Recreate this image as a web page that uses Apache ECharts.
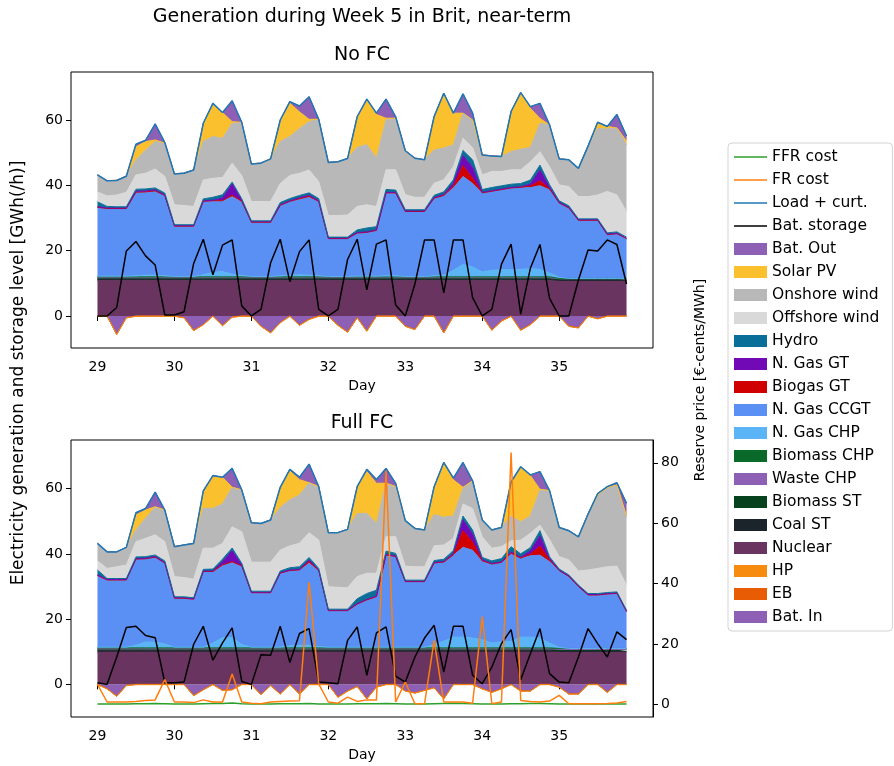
<!DOCTYPE html>
<html><head><meta charset="utf-8">
<script src="https://cdn.jsdelivr.net/npm/echarts@6/dist/echarts.min.js"></script>
<style>html,body{margin:0;padding:0;background:#fff}#c{width:894px;height:766px}</style>
</head><body><div id="c"></div>
<script>
// ---- time axis (3-hourly, days 29 .. 35.875) ----
const days = [29,29.125,29.25,29.375,29.5,29.625,29.75,29.875,30,30.125,30.25,30.375,30.5,30.625,30.75,30.875,31,31.125,31.25,31.375,31.5,31.625,31.75,31.875,32,32.125,32.25,32.375,32.5,32.625,32.75,32.875,33,33.125,33.25,33.375,33.5,33.625,33.75,33.875,34,34.125,34.25,34.375,34.5,34.625,34.75,34.875,35,35.125,35.25,35.375,35.5,35.625,35.75,35.875];
const dayTicks = [29,30,31,32,33,34,35];
const genTicks = [0,20,40,60];
const priceTicks = [0,20,40,60,80];

// ---- No FC (top) ----
const noFcNuclear = [10.8,10.8,10.8,10.8,10.8,10.8,10.8,10.8,10.8,10.8,10.8,10.8,10.8,10.8,10.8,10.8,10.8,10.8,10.8,10.8,10.8,10.8,10.8,10.8,10.8,10.8,10.8,10.8,10.8,10.8,10.8,10.8,10.8,10.8,10.8,10.8,10.8,10.8,10.8,10.8,10.8,10.8,10.8,10.8,10.8,10.8,10.8,10.8,10.8,10.8,10.8,10.8,10.8,10.8,10.8,10.8];
const noFcCoal = [0.4,0.4,0.4,0.4,0.4,0.4,0.4,0.4,0.4,0.4,0.4,0.4,0.4,0.4,0.4,0.4,0.4,0.4,0.4,0.4,0.4,0.4,0.4,0.4,0.4,0.4,0.4,0.4,0.4,0.4,0.4,0.4,0.4,0.4,0.4,0.4,0.4,0.4,0.4,0.4,0.4,0.4,0.4,0.4,0.4,0.4,0.4,0.4,0.1,0.1,0.1,0.1,0.1,0.1,0.1,0.1];
const noFcBiomassST = [0.4,0.4,0.4,0.4,0.4,0.4,0.4,0.4,0.4,0.4,0.4,0.4,0.4,0.4,0.4,0.4,0.4,0.4,0.4,0.4,0.4,0.4,0.4,0.4,0.4,0.4,0.4,0.4,0.4,0.4,0.4,0.4,0.4,0.4,0.4,0.4,0.4,0.4,0.4,0.4,0.4,0.4,0.4,0.4,0.4,0.4,0.4,0.4,0.4,0.4,0.4,0.4,0.4,0.4,0.4,0.4];
const noFcWasteCHP = [0.1,0.1,0.1,0.1,0.1,0.1,0.1,0.1,0.1,0.1,0.1,0.1,0.1,0.1,0.1,0.1,0.1,0.1,0.1,0.1,0.1,0.1,0.1,0.1,0.1,0.1,0.1,0.1,0.1,0.1,0.1,0.1,0.1,0.1,0.1,0.1,0.1,0.1,0.1,0.1,0.1,0.1,0.1,0.1,0.1,0.1,0.1,0.1,0.1,0.1,0.1,0.1,0.1,0.1,0.1,0.1];
const noFcBiomassCHP = [0.3,0.3,0.3,0.3,0.3,0.3,0.3,0.3,0.3,0.3,0.3,0.3,0.3,0.3,0.3,0.3,0.3,0.3,0.3,0.3,0.3,0.3,0.3,0.3,0.3,0.3,0.3,0.3,0.3,0.3,0.3,0.3,0.3,0.3,0.3,0.3,0.3,0.3,0.3,0.3,0.3,0.3,0.3,0.3,0.3,0.3,0.3,0.3,0.1,0.1,0.1,0.1,0.1,0.1,0.1,0.1];
const noFcGasCHP = [0.2,0.2,0.2,0.2,0.3,0.5,0.5,0.3,0.1,0.1,0.1,0.6,1.4,1.6,0.8,0.4,0.1,0.1,0.1,0.3,0.5,0.6,0.5,0.3,0.1,0.1,0.1,0.2,0.2,0.2,0.3,0.3,0.1,0.1,0.1,0.3,0.5,2.0,3.8,3.0,1.5,2.0,2.2,2.2,2.3,2.5,2.3,1.2,0.3,0,0,0,0,0,0,0];
const noFcCCGT = [21.0,20.6,20.6,20.6,25.5,25.4,25.7,24.5,15.3,15.3,15.3,22.4,21.8,21.6,23.7,22.6,16.5,16.5,16.5,21.5,22.5,23.2,24.0,22.7,11.5,11.5,11.5,13.1,13.3,13.9,25.3,25.3,19.8,19.8,19.8,23.7,24.3,25.2,26.9,25.6,24.1,24.1,24.4,24.9,25.0,24.8,25.6,25.4,22.7,21.5,17.7,17.7,17.7,13.3,13.6,12.1];
const noFcBiogasGT = [0.1,0.1,0.1,0.1,0.1,0.1,0.1,0.1,0.1,0.1,0.1,0.1,0.1,0.1,0.5,0.1,0.1,0.1,0.1,0.1,0.1,0.1,0.1,0.1,0.1,0.1,0.1,0.1,0.1,0.1,0.1,0.1,0.1,0.1,0.1,0.1,0.1,0.5,3.3,1.6,0.1,0.1,0.1,0.1,0.1,0.5,1.5,0.3,0.1,0.1,0.1,0.1,0.1,0.1,0.1,0.1];
const noFcGasGT = [0.15,0.15,0.15,0.15,0.3,0.3,0.3,0.15,0.15,0.15,0.15,0.15,0.15,0.8,3.4,0.3,0.15,0.15,0.15,0.15,0.15,0.3,0.4,0.15,0.15,0.15,0.15,0.15,0.15,0.15,0.15,0.15,0.15,0.15,0.15,0.15,0.3,1.0,3.1,3.3,0.2,0.15,0.15,0.15,0.15,0.6,3.3,0.5,0.15,0.15,0.15,0.15,0.15,0.15,0.15,0.15];
const noFcHydro = [1.5,0.5,0.4,0.4,0.6,0.6,0.6,0.6,0.3,0.3,0.3,0.6,0.9,1.0,0.6,0.5,0.3,0.3,0.3,0.7,0.7,0.7,0.7,0.7,0.3,0.3,0.3,0.8,1.2,1.0,0.9,0.7,0.4,0.4,0.4,0.7,0.8,1.0,1.6,2.3,0.8,1.0,1.0,1.0,1.0,1.2,1.5,0.8,0.5,0.5,0.3,0.3,0.3,0.4,0.4,0.3];
const noFcOffshore = [3.0,3.2,3.6,4.4,4.4,4.8,5.8,5.1,6.1,5.9,5.6,5.8,5.8,5.3,5.8,7.1,5.9,5.9,5.9,5.8,7.1,6.8,7.0,5.2,6.6,6.6,6.8,7.2,7.1,6.2,6.0,6.2,4.6,3.8,3.8,3.7,3.7,4.0,3.7,3.7,4.5,4.9,4.4,4.4,4.2,5.6,4.1,5.5,4.9,5.9,6.8,6.8,7.3,12.7,11.3,7.8];
const noFcOnshore = [5.3,4.7,4.5,5.0,4.6,7.1,8.4,10.2,9.5,9.9,11.2,11.8,12.8,12.0,12.2,16.3,11.5,11.8,13.1,12.9,11.9,13.7,14.8,19.1,16.3,16.5,17.3,18.1,18.4,14.8,15.3,15.8,13.5,12.0,11.5,10.2,9.7,6.7,7.7,8.5,6.1,4.8,4.6,5.6,6.3,4.4,8.7,12.8,8.0,8.2,8.7,15.5,20.4,19.1,20.5,20.4];
const noFcSolar = [0,0,0,0,4.0,2.6,0.5,0,0,0,0,5.6,9.7,7.9,0.5,0,0,0,0,6.1,10.2,5.1,0.7,0,0,0,0,9.4,13.6,13.3,0.5,0,0,0,0,10.3,16.8,9.7,0,0,0,0,0,12.3,17.4,12.0,1.5,0,0,0,0,0,1.6,0.8,0,1.2];
const noFcBatOut = [0,0,0,0,0.8,0.4,4.9,0.2,0,0,0,0,0.5,0,6.4,0,0,0,0,0.5,0.5,1.8,6.9,0,0,0,0,0,0.4,0.5,5.9,0.5,0,0,0,0,0,0,5.9,2.1,0,0,0,0,0,0.5,4.6,0,0,0,0,0,0.3,0,4.2,1.6];
const noFcHP = [-0.1,-0.1,-0.1,-0.1,-0.1,-0.1,-0.1,-0.1,-0.1,-0.1,-0.1,-0.1,-0.1,-0.1,-0.1,-0.1,-0.1,-0.1,-0.1,-0.1,-0.1,-0.1,-0.1,-0.1,-0.1,-0.1,-0.1,-0.1,-0.1,-0.1,-0.1,-0.1,-0.1,-0.1,-0.1,-0.1,-0.1,-0.1,-0.1,-0.1,-0.1,-0.1,-0.1,-0.1,-0.1,-0.1,-0.1,-0.1,-0.1,-0.1,-0.1,-0.1,-0.1,-0.1,-0.1,-0.1];
const noFcEB = [0,0,0,0,0,0,0,0,0,0,0,0,0,0,0,0,0,0,0,0,0,0,0,0,0,0,0,0,0,0,0,0,0,0,0,0,0,0,0,0,0,0,0,0,0,0,0,0,0,0,0,0,0,0,0,0];
const noFcBatIn = [0,0,-5.6,-0.5,0,0,0,0,0,-0.5,-4.4,-2.6,0,-2.9,-0.3,0,0,-3.1,-5.1,-2.0,0,-2.8,-1.0,0,0,-2.8,-4.9,-0.5,-4.6,0,0,0,-3.1,-4.1,0,0,-5.1,0,0,0,0,-4.3,-1.5,0,-4.3,-2.6,0,0,0,-3.1,-3.6,0,-0.8,0,0,0];
const noFcLoad = [43.2,41.4,41.5,42.8,52.6,53.8,58.8,53.1,43.5,43.7,44.7,59.0,65.1,62.3,65.9,59.3,46.5,46.8,48.1,60.0,65.6,64.3,67.1,60.2,47.0,47.2,48.2,61.0,66.4,62.1,66.4,61.0,50.6,48.3,47.8,61.1,68.2,62.1,68.0,62.1,49.3,49.0,48.8,62.6,68.4,64.1,65.1,58.5,48.1,47.8,45.2,52.0,59.3,58.0,61.7,55.1];
const noFcBatStorage = [0,0,2.6,19.9,22.8,18.4,15.6,0.3,0.3,1.3,16.1,23.5,12.6,21.7,23.3,3.1,0,2.0,16.3,23.5,10.5,19.7,23.3,2.0,0,2.0,17.3,23.5,8.0,22.0,23.3,3.4,0,9.8,23.3,23.3,7.1,23.3,23.3,5.6,0,2.0,15.9,22.0,0.6,14.6,21.9,5.4,0,0,11.0,20.2,19.9,23.3,21.9,9.8];

// ---- Full FC (bottom) ----
const fullFcNuclear = [9.9,9.9,9.9,9.9,9.9,9.9,9.9,9.9,9.9,9.9,9.9,9.9,9.9,9.9,9.9,9.9,9.9,9.9,9.9,9.9,9.9,9.9,9.9,9.9,9.9,9.9,9.9,9.9,9.9,9.9,9.9,9.9,9.9,9.9,9.9,9.9,9.9,9.9,9.9,9.9,9.9,9.9,9.9,9.9,9.9,9.9,9.9,9.9,9.9,9.9,9.9,9.9,9.9,9.9,9.9,9.9];
const fullFcCoal = [0.4,0.4,0.4,0.4,0.4,0.4,0.4,0.4,0.4,0.4,0.4,0.4,0.4,0.4,0.4,0.4,0.4,0.4,0.4,0.4,0.4,0.4,0.4,0.4,0.4,0.4,0.4,0.4,0.4,0.4,0.4,0.4,0.4,0.4,0.4,0.4,0.4,0.4,0.4,0.4,0.4,0.4,0.4,0.4,0.4,0.4,0.4,0.4,0.2,0.2,0.2,0.2,0.2,0.2,0.2,0.2];
const fullFcBiomassST = [0.5,0.5,0.5,0.5,0.5,0.5,0.5,0.5,0.5,0.5,0.5,0.5,0.5,0.5,0.5,0.5,0.5,0.5,0.5,0.5,0.5,0.5,0.5,0.5,0.5,0.5,0.5,0.5,0.5,0.5,0.5,0.5,0.5,0.5,0.5,0.5,0.5,0.5,0.5,0.5,0.5,0.5,0.5,0.5,0.5,0.5,0.5,0.5,0.5,0.5,0.5,0.5,0.5,0.5,0.5,0.5];
const fullFcWasteCHP = [0.1,0.1,0.1,0.1,0.1,0.1,0.1,0.1,0.1,0.1,0.1,0.1,0.1,0.1,0.1,0.1,0.1,0.1,0.1,0.1,0.1,0.1,0.1,0.1,0.1,0.1,0.1,0.1,0.1,0.1,0.1,0.1,0.1,0.1,0.1,0.1,0.1,0.1,0.1,0.1,0.1,0.1,0.1,0.1,0.1,0.1,0.1,0.1,0.1,0.1,0.1,0.1,0.1,0.1,0.1,0.1];
const fullFcBiomassCHP = [0.3,0.3,0.3,0.3,0.3,0.3,0.3,0.3,0.3,0.3,0.3,0.3,0.3,0.3,0.3,0.3,0.3,0.3,0.3,0.3,0.3,0.3,0.3,0.3,0.3,0.3,0.3,0.3,0.3,0.3,0.3,0.3,0.3,0.3,0.3,0.3,0.3,0.3,0.3,0.3,0.3,0.3,0.3,0.3,0.3,0.3,0.3,0.3,0.3,0.3,0.3,0.3,0.3,0.3,0.3,0.3];
const fullFcGasCHP = [0.2,0.2,0.2,0.2,0.8,1.8,1.8,1.2,0.2,0.2,0.2,0.2,1.5,3.1,3.1,1.0,0.2,0.2,0.2,0.2,0.6,0.8,0.8,0.4,0.2,0.2,0.2,0.2,0.2,0.2,0.2,0.2,0.2,0.2,0.2,1.0,2.0,3.3,3.3,3.0,2.5,1.5,1.8,2.0,3.3,3.3,3.0,1.5,0.3,0,0,0,0,0,0,0];
const fullFcCCGT = [21.9,20.5,20.5,20.5,26.3,25.4,25.9,24.7,14.9,14.9,14.6,23.1,21.8,22.2,23.0,24.0,16.6,16.6,16.6,22.6,23.0,23.0,25.1,23.2,11.1,11.1,11.1,13.1,14.4,15.4,28.2,27.7,20.0,20.0,20.0,24.9,24.2,25.1,27.5,26.9,23.9,24.1,24.3,26.9,24.1,24.9,25.4,24.9,23.5,22.0,18.9,16.3,16.3,16.6,16.8,11.2];
const fullFcBiogasGT = [0.1,0.1,0.1,0.1,0.1,0.1,0.1,0.1,0.1,0.1,0.1,0.1,0.1,0.1,0.3,0.1,0.1,0.1,0.1,0.1,0.1,0.1,0.5,0.1,0.1,0.1,0.1,0.1,0.1,0.1,0.1,0.1,0.1,0.1,0.1,0.1,0.1,0.1,5.1,2.5,0.3,0.1,0.1,0.1,0.1,0.5,2.8,0.5,0.1,0.1,0.1,0.1,0.1,0.1,0.1,0.1];
const fullFcGasGT = [0.15,0.15,0.15,0.15,0.15,0.15,0.15,0.15,0.15,0.15,0.15,0.15,0.15,1.0,3.4,0.3,0.15,0.15,0.15,0.15,0.15,0.15,0.5,0.15,0.15,0.15,0.15,0.15,0.15,0.15,0.15,0.15,0.15,0.15,0.15,0.15,0.15,0.5,3.3,2.5,0.3,0.15,0.15,0.5,0.3,1.0,3.1,0.5,0.15,0.15,0.15,0.15,0.15,0.15,0.15,0.15];
const fullFcHydro = [1.5,0.3,0.3,0.3,0.5,0.5,0.5,0.5,0.3,0.3,0.3,0.5,0.6,0.8,0.8,0.5,0.3,0.3,0.3,0.5,0.7,0.8,0.8,0.5,0.3,0.3,0.3,1.5,1.8,1.8,1.0,0.8,0.3,0.3,0.3,0.6,0.7,0.8,1.2,1.2,0.7,0.8,1.0,1.5,1.0,1.0,1.6,0.5,0.3,0.3,0.3,0.3,0.3,0.3,0.3,0.3];
const fullFcOffshore = [2.8,3.1,3.6,4.1,4.7,5.6,6.2,5.9,6.2,5.9,5.7,6.5,6.4,4.8,6.5,9.7,8.9,8.9,8.9,6.4,6.7,7.2,7.6,8.7,6.9,6.7,6.6,6.8,6.2,5.2,4.4,5.1,4.3,4.1,4.1,4.5,4.4,3.7,3.7,6.6,6.3,3.9,3.7,1.8,4.2,4.4,1.7,5.3,3.8,4.6,4.3,7.2,7.7,7.9,7.9,7.7];
const fullFcOnshore = [5.4,5.1,4.6,5.5,3.6,6.2,8.4,9.7,9.2,10.0,11.0,12.2,12.2,12.1,12.1,12.8,12.1,11.9,13.0,13.1,14.1,14.8,15.3,16.4,16.6,16.8,17.9,19.3,18.4,15.3,16.4,15.4,14.0,11.8,11.3,9.6,8.5,6.9,4.8,8.5,5.2,5.6,5.9,7.6,5.6,5.3,10.8,15.0,9.0,9.0,10.5,17.2,22.5,24.3,24.6,20.7];
const fullFcSolar = [0,0,0,0,4.6,2.5,0.2,0,0,0,0,4.7,9.6,8.2,0,0,0,0,0,5.6,8.9,4.7,0,0,0,0,0,8.3,12.8,12.3,0,0,0,0,0,8.6,16.8,11.1,0.3,0,0,0,0,10.0,16.9,12.4,0.2,0,0,0,0,0,0,0,0.3,0.4];
const fullFcBatOut = [0,0,0,0,0.7,0.5,4.5,0,0,0,0,0.7,0.5,0,5.8,0,0,0,0,0.6,0.5,0.8,5.7,0,0,0,0,0,0.7,1.2,4.6,1.0,0,0,0,0,0,0.5,7.6,0,0,0,0,0.5,0,0.2,5.4,0,0,0,0,0,0.5,0.3,0.7,4.0];
const fullFcHP = [-0.1,-0.1,-0.1,-0.1,-0.1,-0.1,-0.1,-0.1,-0.1,-0.1,-0.1,-0.1,-0.1,-0.1,-0.1,-0.1,-0.1,-0.1,-0.1,-0.1,-0.1,-0.1,-0.1,-0.1,-0.1,-0.1,-0.1,-0.1,-0.1,-0.1,-0.1,-0.1,-0.1,-0.1,-0.1,-0.1,-0.1,-0.1,-0.1,-0.1,-0.1,-0.1,-0.1,-0.1,-0.1,-0.1,-0.1,-0.1,-0.1,-0.1,-0.1,-0.1,-0.1,-0.1,-0.1,-0.1];
const fullFcEB = [0,0,0,0,0,0,0,0,0,0,0,0,0,0,0,0,0,0,0,0,0,0,0,0,0,0,0,0,0,0,0,0,0,0,0,0,0,0,0,0,0,0,0,0,0,0,0,0,0,0,0,0,0,0,0,0];
const fullFcBatIn = [0,-1.3,-3.6,-0.3,0,0,0,0,0,0,-3.4,-1.6,0,-1.8,-1.6,0,0,-3.1,-0.3,-2.9,0,-2.9,0,0,0,-3.9,-2.0,-0.6,-4.4,-0.8,0,0,-2.0,-2.6,-1.8,-1.0,-4.4,0,0,0,-1.3,-2.4,-1.3,0,-2.0,-2.0,0,0,-0.8,-2.9,-2.9,0,0,-2.4,0,0];
const fullFcLoad = [43.2,40.6,40.6,42.0,52.6,53.9,58.9,53.4,42.2,42.7,43.2,59.3,64.0,63.5,66.2,59.6,49.5,49.3,50.4,60.4,65.9,63.5,67.5,60.6,46.5,46.5,47.5,60.6,65.9,62.8,66.2,61.6,50.2,47.8,47.3,60.6,68.0,63.2,68.0,62.4,50.4,47.3,48.1,62.1,66.7,64.2,65.2,59.4,48.1,47.1,45.2,52.2,58.5,60.6,61.8,55.5];
const fullFcBatStorage = [0.5,0,8.4,17.4,17.8,15.0,14.3,0.5,0.5,0.7,12.3,17.8,7.4,12.7,17.3,0.9,0,9.1,8.9,17.8,6.7,15.6,17.1,0.7,0.5,0.2,13.5,17.6,2.8,15.8,17.6,2.5,0.7,8.4,14.2,18.1,3.8,17.8,17.8,2.8,0.2,5.3,12.5,16.8,1.4,9.4,17.1,3.3,0.7,0.5,8.4,17.1,12.5,8.4,16.1,13.7];
const fullFcFRCost = [6.6,0.8,0.8,0.8,1.0,1.3,1.5,8.2,0.8,0.8,0.6,1.5,0.8,0.8,10.1,0.8,0.4,0.2,0.8,1.0,1.1,1.2,40.4,6.8,0.8,0.4,2.4,1.0,1.5,1.5,77.4,0.8,7.4,0.2,0.2,21.2,0.8,0.8,0.8,0.4,29.1,0.2,0.8,83.4,1.3,1.0,0.8,1.1,3.0,0.2,0.2,0.2,0.2,0.3,0.5,1.0];
const fullFcFFRCost = [0.1,0.1,0.1,0.1,0.2,0.2,0.3,0.2,0.1,0.1,0.1,0.2,0.3,0.3,0.5,0.2,0.1,0.1,0.1,0.2,0.2,0.2,0.3,0.1,0.1,0.1,0.1,0.2,0.2,0.2,0.3,0.2,0.1,0.1,0.1,0.2,0.3,0.4,0.3,0.2,0.1,0.1,0.1,0.2,0.2,0.3,0.3,0.2,0.1,0.1,0.1,0.1,0.1,0.1,0.1,0.1];

// ---- styling ----
const FONT = 'DejaVu Sans';
const COLORS = {
  'FFR cost':'#2ca02c','FR cost':'#ff7f0e','Load + curt.':'#1f77b4','Bat. storage':'#000000',
  'Bat. Out':'#8d5fb5','Solar PV':'#fbc02d','Onshore wind':'#b8b8b8','Offshore wind':'#d9d9d9',
  'Hydro':'#0a6f98','N. Gas GT':'#7209b7','Biogas GT':'#d00000','N. Gas CCGT':'#5a8ff3',
  'N. Gas CHP':'#5ab4f5','Biomass CHP':'#0a6a2a','Waste CHP':'#8d5fb5','Biomass ST':'#06421e',
  'Coal ST':'#1b242b','Nuclear':'#6a3460','HP':'#f68b0f','EB':'#e85d04','Bat. In':'#8d5fb5'
};
const legendOrder = ['FFR cost','FR cost','Load + curt.','Bat. storage','Bat. Out','Solar PV','Onshore wind','Offshore wind','Hydro','N. Gas GT','Biogas GT','N. Gas CCGT','N. Gas CHP','Biomass CHP','Waste CHP','Biomass ST','Coal ST','Nuclear','HP','EB','Bat. In'];
const lineNames = ['FFR cost','FR cost','Load + curt.','Bat. storage'];

const stacks = [
  {batIn:noFcBatIn, eb:noFcEB, hp:noFcHP, nuc:noFcNuclear, coal:noFcCoal, bst:noFcBiomassST, wchp:noFcWasteCHP, bchp:noFcBiomassCHP, gchp:noFcGasCHP, ccgt:noFcCCGT, bgt:noFcBiogasGT, ggt:noFcGasGT, hyd:noFcHydro, off:noFcOffshore, on:noFcOnshore, sol:noFcSolar, out:noFcBatOut, load:noFcLoad, stor:noFcBatStorage},
  {batIn:fullFcBatIn, eb:fullFcEB, hp:fullFcHP, nuc:fullFcNuclear, coal:fullFcCoal, bst:fullFcBiomassST, wchp:fullFcWasteCHP, bchp:fullFcBiomassCHP, gchp:fullFcGasCHP, ccgt:fullFcCCGT, bgt:fullFcBiogasGT, ggt:fullFcGasGT, hyd:fullFcHydro, off:fullFcOffshore, on:fullFcOnshore, sol:fullFcSolar, out:fullFcBatOut, load:fullFcLoad, stor:fullFcBatStorage}
];

// value first, day second, so the stack is computed on the value dimension
function pairs(arr){ return days.map((d,i)=>[arr[i], d]); }
const DIMS = [{name:'val', type:'float'}, {name:'day', type:'float'}];
const ENC = {x:'day', y:'val'};
function areaSeries(name, arr, g){
  const c = COLORS[name];
  return {type:'line', name, xAxisIndex:g, yAxisIndex:g, stack:'gen'+g, stackStrategy:'samesign',
    symbol:'none', silent:true, dimensions:DIMS, encode:ENC, data:pairs(arr),
    lineStyle:{color:c, width:1}, itemStyle:{color:c}, areaStyle:{color:c, opacity:1}};
}
function lineSeries(name, arr, xi, yi){
  const c = COLORS[name];
  return {type:'line', name, xAxisIndex:xi, yAxisIndex:yi, symbol:'none', silent:true,
    dimensions:DIMS, encode:ENC, data:pairs(arr),
    lineStyle:{color:c, width:1.5}, itemStyle:{color:c}};
}

const series = [];
stacks.forEach((s,g)=>{
  const order = [['Bat. In',s.batIn],['EB',s.eb],['HP',s.hp],['Nuclear',s.nuc],['Coal ST',s.coal],['Biomass ST',s.bst],['Waste CHP',s.wchp],['Biomass CHP',s.bchp],['N. Gas CHP',s.gchp],['N. Gas CCGT',s.ccgt],['Biogas GT',s.bgt],['N. Gas GT',s.ggt],['Hydro',s.hyd],['Offshore wind',s.off],['Onshore wind',s.on],['Solar PV',s.sol],['Bat. Out',s.out]];
  order.forEach(([n,a])=>series.push(areaSeries(n,a,g)));
  series.push(lineSeries('Load + curt.', s.load, g, g));
  series.push(lineSeries('Bat. storage', s.stor, g, g));
});
series.push(lineSeries('FFR cost', fullFcFFRCost, 1, 2));
series.push(lineSeries('FR cost', fullFcFRCost, 1, 2));

const tickFont = {fontFamily:FONT, fontSize:14, color:'#000'};
function xAx(g){
  return {type:'value', gridIndex:g, min:28.656, max:36.219,
    axisLine:{show:false}, splitLine:{show:false},
    axisTick:{show:true, length:5, lineStyle:{color:'#000', width:1}, customValues:dayTicks},
    axisLabel:Object.assign({margin:12, customValues:dayTicks}, tickFont),
    name:'Day', nameLocation:'middle', nameGap:31, nameTextStyle:{fontFamily:FONT, fontSize:14, color:'#000'}};
}
function yAx(g, min, max, ticks, pos){
  return {type:'value', gridIndex:g, min, max, position:pos,
    axisLine:{show:pos==='right', lineStyle:{color:'#000', width:1}}, splitLine:{show:false},
    axisTick:{show:true, length:5, lineStyle:{color:'#000', width:1}, customValues:ticks},
    axisLabel:Object.assign({margin:8, customValues:ticks}, tickFont)};
}

const titleStyle = {fontFamily:FONT, fontSize:19, fontWeight:'normal', color:'#000'};
const LINE_ICON = 'path://M0,0 L40,0 L40,2 L0,2 Z';
const option = {
  animation:false,
  backgroundColor:'#fff',
  title:[
    {text:'Generation during Week 5 in Brit, near-term', left:362, top:8, textAlign:'center', padding:0, textStyle:titleStyle},
    {text:'No FC', left:362, top:46, textAlign:'center', padding:0, textStyle:titleStyle},
    {text:'Full FC', left:362, top:414, textAlign:'center', padding:0, textStyle:titleStyle}
  ],
  grid:[
    {left:71, top:72, width:582, height:276, show:true, borderColor:'#000', borderWidth:1, backgroundColor:'transparent', containLabel:false},
    {left:71, top:440, width:582, height:277, show:true, borderColor:'#000', borderWidth:1, backgroundColor:'transparent', containLabel:false}
  ],
  xAxis:[xAx(0), xAx(1)],
  yAxis:[yAx(0,-9.8,74.7,genTicks,'left'), yAx(1,-10.0,74.9,genTicks,'left'), yAx(1,-4.17,87.57,priceTicks,'right')],
  legend:{
    orient:'vertical', left:728, top:143, selectedMode:false,
    itemWidth:33, itemHeight:12, itemGap:7, itemTextGap:11,
    padding:[6,13,6,6], borderColor:'#d3d3d3', borderWidth:1, borderRadius:4, backgroundColor:'#fff',
    textStyle:{fontFamily:FONT, fontSize:15.5, color:'#000', lineHeight:14},
    data: legendOrder.map(n=> lineNames.includes(n) ? {name:n, icon:LINE_ICON} : {name:n, icon:'rect'})
  },
  graphic:[
    {type:'text', x:19, y:373, rotation:Math.PI/2, silent:true,
     style:{text:'Electricity generation and storage level [GWh(/h)]', fontFamily:FONT, fontSize:17, fill:'#000', align:'center', verticalAlign:'middle'}},
    {type:'text', x:700, y:380, rotation:Math.PI/2, silent:true,
     style:{text:'Reserve price [€-cents/MWh]', fontFamily:FONT, fontSize:14, fill:'#000', align:'center', verticalAlign:'middle'}}
  ],
  series
};
const chart = echarts.init(document.getElementById('c'), null, {renderer:'canvas'});
chart.setOption(option);
</script>
</body></html>
